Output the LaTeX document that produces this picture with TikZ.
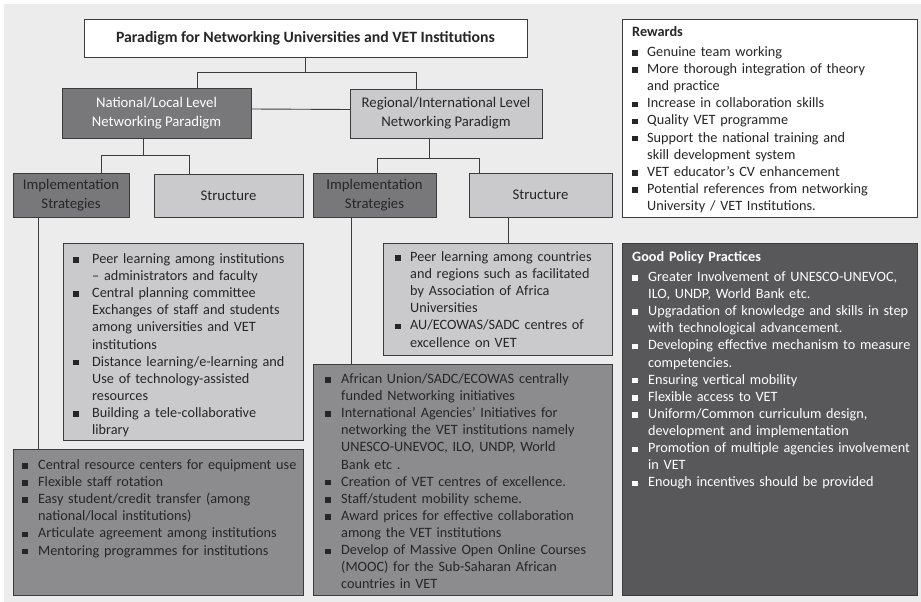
\documentclass[tikz,border=0pt]{standalone}
\usepackage{fontspec}
\setmainfont{Carlito}
\usepackage{xcolor}
\definecolor{page-gray}{RGB}{236,236,236}
\definecolor{line-gray}{RGB}{60,60,62}
\definecolor{text-gray}{RGB}{38,38,40}
\definecolor{mid-gray}{RGB}{120,120,122}
\definecolor{list-gray}{RGB}{140,140,142}
\definecolor{pale-gray}{RGB}{202,202,204}
\definecolor{slate-gray}{RGB}{88,88,90}
\usepackage{tikz}
\usetikzlibrary{positioning}

\newlength{\bulletgap}
\setlength{\bulletgap}{16bp}
\newcommand{\sqbullet}{\par\hangindent=\bulletgap\hangafter=1\noindent\makebox[\bulletgap][l]{\rule[0.05em]{0.38em}{0.38em}}}

\begin{document}
\begin{tikzpicture}[
    x=1bp, y=-1bp,
    frame box/.style={
        draw=line-gray,
        line width=0.9bp,
        anchor=north west,
        inner sep=0pt,
        outer sep=0pt
    },
    head box/.style={
        frame box,
        align=center,
        font=\fontsize{14.8}{19}\selectfont,
        text=text-gray
    },
    list text/.style={
        anchor=north west,
        inner sep=0pt,
        align=left,
        text=text-gray,
        font=\fontsize{14.3}{17.2}\selectfont
    },
    link/.style={line-gray, line width=0.9bp}
]

% Page background
\useasboundingbox (0,0) rectangle (921,602);
\fill[page-gray] (4,4) rectangle (921,602);

% Title
\node[head box, fill=white, minimum width=443bp, minimum height=38bp,
    font=\fontsize{15.8}{18}\selectfont\bfseries] (title) at (84,19)
    {Paradigm for Networking Universities and VET Institutions};

% Level paradigms
\node[head box, fill=mid-gray, text=white, minimum width=189bp, minimum height=50bp] (natl) at (62,88)
    {National/Local Level\\Networking Paradigm};
\node[head box, fill=pale-gray, minimum width=192bp, minimum height=49bp] (regl) at (350,89)
    {Regional/International Level\\Networking Paradigm};

% Implementation / structure - national
\node[head box, fill=mid-gray, minimum width=116bp, minimum height=44bp] (implL) at (13,173)
    {Implementation\\Strategies};
\node[head box, fill=pale-gray, minimum width=149bp, minimum height=43bp] (strucL) at (154,174)
    {Structure};

% Implementation / structure - regional
\node[head box, fill=mid-gray, minimum width=123bp, minimum height=44bp] (implR) at (313,173)
    {Implementation\\Strategies};
\node[head box, fill=pale-gray, minimum width=143bp, minimum height=44bp] (strucR) at (469,173)
    {Structure};

% National structure list
\node[frame box, fill=pale-gray, minimum width=240bp, minimum height=197bp] (strucLlist) at (63,243) {};
\node[list text, text width=228bp] (strucLtxt) at ([xshift=10bp, yshift=-3bp]strucLlist.north west) {%
\setlength{\bulletgap}{19bp}%
\sqbullet Peer learning among institutions\newline -- administrators and faculty
\sqbullet Central planning committee\newline Exchanges of staff and students\newline among universities and VET\newline institutions
\sqbullet Distance learning/e-learning and\newline Use of technology-assisted\newline resources
\sqbullet Building a tele-collaborative\newline library\par};

% National implementation list
\node[frame box, fill=list-gray, minimum width=290bp, minimum height=146bp] (implLlist) at (13,449) {};
\node[list text, text width=280bp] (implLtxt) at ([xshift=9bp, yshift=-3bp]implLlist.north west) {%
\sqbullet Central resource centers for equipment use
\sqbullet Flexible staff rotation
\sqbullet Easy student/credit transfer (among\newline national/local institutions)
\sqbullet Articulate agreement among institutions
\sqbullet Mentoring programmes for institutions\par};

% Regional structure list
\node[frame box, fill=pale-gray, minimum width=229bp, minimum height=112bp] (strucRlist) at (383,243) {};
\node[list text, text width=215bp] (strucRtxt) at ([xshift=12bp, yshift=-1bp]strucRlist.north west) {%
\setlength{\bulletgap}{15bp}%
\sqbullet Peer learning among countries\newline and regions such as facilitated\newline by Association of Africa\newline Universities
\sqbullet AU/ECOWAS/SADC centres of\newline excellence on VET\par};

% Regional implementation list
\node[frame box, fill=list-gray, minimum width=299bp, minimum height=231bp] (implRlist) at (313,364) {};
\node[list text, text width=285bp] (implRtxt) at ([xshift=12bp, yshift=-2bp]implRlist.north west) {%
\sqbullet African Union/SADC/ECOWAS centrally\newline funded Networking initiatives
\sqbullet International Agencies' Initiatives for\newline networking the VET institutions namely\newline UNESCO-UNEVOC, ILO, UNDP, World\newline Bank etc .
\sqbullet Creation of VET centres of excellence.
\sqbullet Staff/student mobility scheme.
\sqbullet Award prices for effective collaboration\newline among the VET institutions
\sqbullet Develop of Massive Open Online Courses\newline (MOOC) for the Sub-Saharan African\newline countries in VET\par};

% Rewards
\node[frame box, fill=white, minimum width=295bp, minimum height=198bp] (rewards) at (622,19) {};
\node[list text, text width=285bp] (rewardstxt) at ([xshift=10bp, yshift=-7bp]rewards.north west) {%
\setlength{\bulletgap}{15bp}%
\textbf{Rewards}\par\vspace{3bp}
\sqbullet Genuine team working
\sqbullet More thorough integration of theory\newline and practice
\sqbullet Increase in collaboration skills
\sqbullet Quality VET programme
\sqbullet Support the national training and\newline skill development system
\sqbullet VET educator's CV enhancement
\sqbullet Potential references from networking\newline University / VET Institutions.\par};

% Good policy practices
\node[frame box, fill=slate-gray, minimum width=295bp, minimum height=352bp] (policy) at (622,243) {};
\node[list text, text=white, text width=285bp] (policytxt) at ([xshift=10bp, yshift=-8bp]policy.north west) {%
\textbf{Good Policy Practices}\par\vspace{3bp}
\sqbullet Greater Involvement of UNESCO-UNEVOC,\newline ILO, UNDP, World Bank etc.
\sqbullet Upgradation of knowledge and skills in step\newline with technological advancement.
\sqbullet Developing effective mechanism to measure\newline competencies.
\sqbullet Ensuring vertical mobility
\sqbullet Flexible access to VET
\sqbullet Uniform/Common curriculum design,\newline development and implementation
\sqbullet Promotion of multiple agencies involvement\newline in VET
\sqbullet Enough incentives should be provided\par};

% Connector feet
\coordinate (implLfoot) at ([xshift=-33bp]implL.south);
\coordinate (implRfoot) at ([xshift=-23.5bp]implR.south);
\coordinate (strucRfoot) at ([xshift=-32.5bp]strucR.south);

% Connectors
\draw[link] (title.south) -- ++(0,15) -| ([xshift=40.5bp]natl.north);
\draw[link] (title.south) -- ++(0,15) -| ([xshift=-30bp]regl.north);
\draw[link] ([yshift=4bp]natl.east) -- ([yshift=4bp]regl.west);
\draw[link] ([xshift=-13.5bp]natl.south) -- ++(0,17) -| ([xshift=30bp]implL.north);
\draw[link] ([xshift=-13.5bp]natl.south) -- ++(0,17) -| ([xshift=-39.5bp]strucL.north);
\draw[link] ([xshift=-17bp]regl.south) -- ++(0,20) -| ([xshift=2.5bp]implR.north);
\draw[link] ([xshift=-17bp]regl.south) -- ++(0,20) -| ([xshift=-61.5bp]strucR.north);
\draw[link] (implLfoot) -- (implLfoot |- implLlist.north);
\draw[link] (implRfoot) -- (implRfoot |- implRlist.north);
\draw[link] (strucRfoot) -- (strucRfoot |- strucRlist.north);
\end{tikzpicture}
\end{document}
